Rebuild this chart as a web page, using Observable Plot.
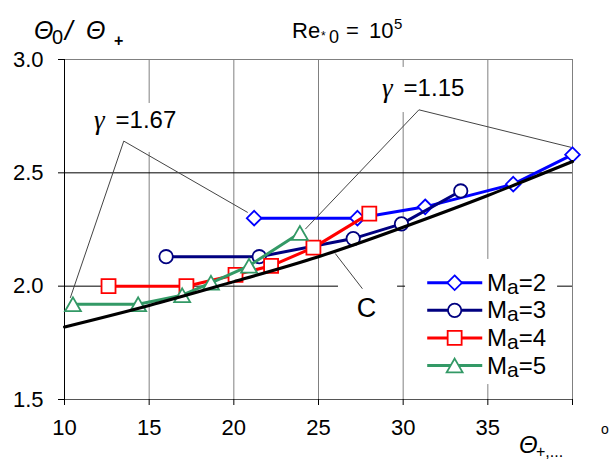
<!DOCTYPE html>
<html><head><meta charset="utf-8">
<script src="https://cdn.jsdelivr.net/npm/d3@7"></script>
<script src="https://cdn.jsdelivr.net/npm/@observablehq/plot@0.6"></script>
<style>body{margin:0;background:#fff} svg{display:block}</style>
</head><body><div id="chart"></div>
<script>
// ---- data ----
const seriesNames = ["Ma=2", "Ma=3", "Ma=4", "Ma=5"];
const ma2X = [21.2, 27.3, 31.3, 36.5, 40.0];
const ma2Y = [2.30, 2.30, 2.35, 2.45, 2.58];
const ma3X = [16.0, 21.5, 27.05, 29.9, 33.4];
const ma3Y = [2.13, 2.13, 2.21, 2.275, 2.42];
const ma4X = [12.6, 17.2, 20.1, 22.2, 24.7, 28.0];
const ma4Y = [2.00, 2.00, 2.05, 2.09, 2.17, 2.32];
const ma5X = [10.5, 14.35, 16.95, 18.65, 20.9, 23.9];
const ma5Y = [1.92, 1.92, 1.96, 2.015, 2.09, 2.235];
const cX = [10, 15, 20, 25, 30, 35, 40];
const cY = [1.82, 1.915, 2.02, 2.13, 2.26, 2.40, 2.55];
const xTicks = [10, 15, 20, 25, 30, 35, 40];
const yTicks = [1.5, 2.0, 2.5, 3.0];
const gammaLabels = ["=1.67", "=1.15"];
const gammaAnchorX = [12.72, 29.73];
const gammaAnchorY = [2.73, 2.872];
const leader167 = [[10.35, 1.95], [13.5, 2.64], [20.8, 2.326]];
const leader115 = [[24.24, 2.253], [30.93, 2.778], [39.89, 2.613]];
const leaderC = [[26.0, 2.143], [27.58, 1.99]];
const cLabel = [{x: 27.84, y: 1.90, t: "C"}];

// ---- styling ----
const W = 611, H = 462;
const colors = ["#0000ff", "#000080", "#ff0000", "#339966"];
const symbols = ["diamond2", "circle", "square2", "triangle2"];
const radii = [6.6, 6.7, 8.9, 7.6];
const dys = [0, 0, 0, 2.3];
const sans = "'Liberation Sans', Arial, Helvetica, sans-serif";
const serif = "'Liberation Serif', 'Times New Roman', serif";

const seriesX = [ma2X, ma3X, ma4X, ma5X];
const seriesY = [ma2Y, ma3Y, ma4Y, ma5Y];
const seriesPts = seriesX.map((xs, i) => xs.map((x, j) => ({x, y: seriesY[i][j]})));
const cPts = cX.map((x, i) => ({x, y: cY[i]}));

// white label boxes (data units) hiding gridlines behind labels
const boxes = [
  {x1: 30.14, x2: 39.12, y1: 1.566, y2: 2.118},
  {x1: 26.18, x2: 29.67, y1: 1.796, y2: 2.012},
  {x1: 11.18, x2: 17.09, y1: 2.59, y2: 2.806},
  {x1: 28.07, x2: 34.1, y1: 2.766, y2: 2.965}
];

// legend layout (data units)
const legX1 = 31.42, legX2 = 34.67, legMX = 33.04, legTX = 34.98;
const legTop = 2.015, legStep = 0.1217;
const legRows = seriesNames.map((n, i) => ({name: n, y: legTop - i * legStep}));

const marks = [
  Plot.ruleX([15, 20, 25, 30, 35], {stroke: "#808080", strokeWidth: 1}),
  Plot.ruleY([2.0, 2.5], {stroke: "#000", strokeWidth: 1}),
  Plot.rect(boxes, {x1: "x1", x2: "x2", y1: "y1", y2: "y2", fill: "white"}),
  Plot.ruleX([40], {stroke: "#808080"}),
  Plot.ruleY([3.0], {stroke: "#808080"}),
  Plot.ruleY([1.5], {stroke: "#555"}),
  Plot.ruleX([10], {stroke: "#000"}),
  Plot.axisX({ticks: xTicks, tickSize: 6, tickPadding: 14, tickFormat: d => d === 40 ? "" : String(d), label: null, fontSize: 22, fontFamily: sans}),
  Plot.axisY({ticks: yTicks, tickSize: 6, tickPadding: 15, tickFormat: d3.format(".1f"), label: null, fontSize: 22, fontFamily: sans})
];

seriesPts.forEach((pts, i) => {
  marks.push(Plot.line(pts, {x: "x", y: "y", stroke: colors[i], strokeWidth: 3, strokeLinejoin: "round"}));
  marks.push(Plot.dot(pts, {x: "x", y: "y", symbol: symbols[i], r: radii[i], stroke: colors[i], fill: "white", strokeWidth: 1.8, dy: dys[i]}));
});
marks.push(Plot.line(cPts, {x: "x", y: "y", stroke: "#000", strokeWidth: 3, curve: "natural"}));

[leader167, leader115, leaderC].forEach(L => {
  marks.push(Plot.line(L, {x: d => d[0], y: d => d[1], stroke: "#444", strokeWidth: 1}));
});

const gammaData = gammaLabels.map((t, i) => ({t, x: gammaAnchorX[i], y: gammaAnchorY[i]}));
marks.push(Plot.text(gammaData, {x: "x", y: "y", text: () => "γ", textAnchor: "end", dx: -6, fontSize: 27, fontStyle: "italic", fontFamily: serif, fill: "#000"}));
marks.push(Plot.text(gammaData, {x: "x", y: "y", text: "t", textAnchor: "start", dx: 5, fontSize: 24, fontFamily: sans, fill: "#000"}));
marks.push(Plot.text(cLabel, {x: "x", y: "y", text: "t", fontSize: 27, fontFamily: sans, fill: "#000"}));

// legend swatches
legRows.forEach((r, i) => {
  marks.push(Plot.link([r], {x1: () => legX1, x2: () => legX2, y1: "y", y2: "y", stroke: colors[i], strokeWidth: 3}));
  marks.push(Plot.dot([r], {x: () => legMX, y: "y", symbol: symbols[i], r: radii[i], stroke: colors[i], fill: "white", strokeWidth: 1.8, dy: dys[i]}));
});

const plot = Plot.plot({
  width: W, height: H,
  marginLeft: 64, marginRight: 39, marginTop: 59, marginBottom: 63,
  style: {fontFamily: sans, fontSize: "22px", background: "white", color: "black"},
  x: {domain: [10, 40]},
  y: {domain: [1.5, 3.0]},
  marks
});

// scales for placing rich text
const xs = plot.scale("x"), ys = plot.scale("y");
const sx = xs.apply ? v => xs.apply(v) : d3.scaleLinear(xs.domain, xs.range);
const sy = ys.apply ? v => ys.apply(v) : d3.scaleLinear(ys.domain, ys.range);

const svg = d3.select(plot);
const T = svg.append("g").attr("font-family", sans).attr("fill", "black").attr("text-anchor", "start");
function rich(pieces) {
  const t = T.append("text").attr("text-anchor", "start");
  pieces.forEach(p => {
    const s = t.append("tspan").attr("x", p.x).attr("y", p.y).attr("font-size", p.size).text(p.t);
    if (p.italic) s.attr("font-style", "italic");
    if (p.weight) s.attr("font-weight", p.weight);
    if (p.family) s.attr("font-family", p.family);
  });
}
// y-axis title
rich([
  {t: "Θ", x: 34, y: 39, size: 25, italic: true},
  {t: "0", x: 52, y: 44, size: 20},
  {t: "/", x: 65, y: 40, size: 27, italic: true},
  {t: "Θ", x: 86, y: 39, size: 25, italic: true},
  {t: "+", x: 114, y: 46, size: 16, weight: "bold"}
]);
// chart title
rich([
  {t: "Re", x: 292, y: 38, size: 22},
  {t: "*", x: 321, y: 40, size: 12},
  {t: "0", x: 329, y: 43, size: 18},
  {t: "=", x: 346, y: 38, size: 22},
  {t: "10", x: 369, y: 38, size: 22},
  {t: "5", x: 394, y: 29, size: 15}
]);
// x-axis title
rich([
  {t: "Θ", x: 519, y: 453, size: 24, italic: true},
  {t: "+,...", x: 536, y: 457, size: 16},
  {t: "o", x: 601, y: 434, size: 14}
]);
// legend labels
legRows.forEach(r => {
  const y = sy(r.y) + 8.5, x = sx(legTX);
  const t = T.append("text").attr("x", x).attr("y", y).attr("font-size", 24).attr("text-anchor", "start");
  t.append("tspan").text(r.name.slice(0, 1));
  t.append("tspan").attr("dy", 3).attr("font-size", 21).text(r.name.slice(1, 2));
  t.append("tspan").attr("dy", -3).text(r.name.slice(2));
});

document.getElementById("chart").appendChild(plot);
</script>
</body></html>
